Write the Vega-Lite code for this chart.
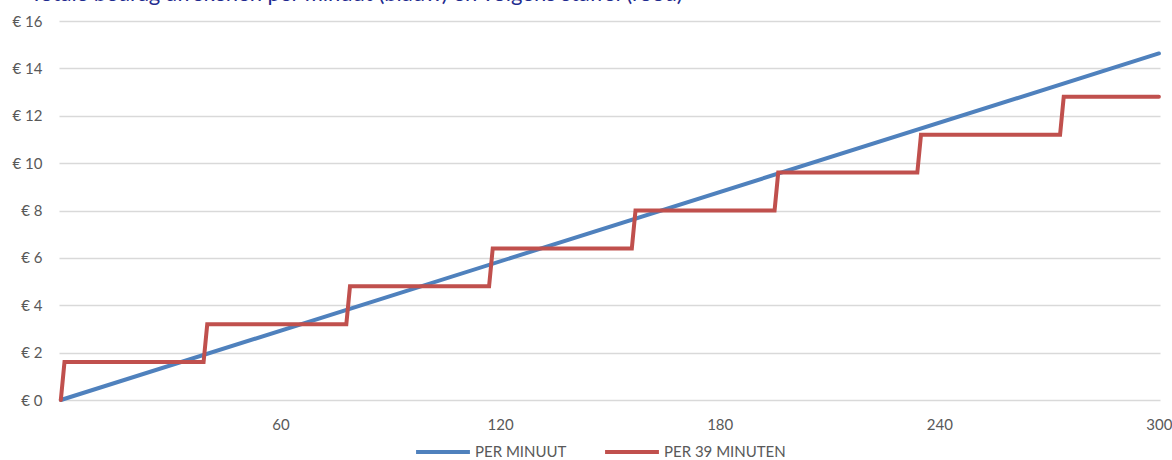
{
  "$schema": "https://vega.github.io/schema/vega-lite/v6.json",
  "autosize": {"type": "none"},
  "padding": {"left": 59, "top": 21, "right": 12, "bottom": 60},
  "width": 1101,
  "height": 379,
  "background": "white",
  "title": {
    "text": "Totale bedrag afrekenen per minuut (blauw) en volgens staffel (rood)",
    "anchor": "start",
    "frame": "group",
    "orient": "top",
    "baseline": "alphabetic",
    "offset": 7,
    "dx": -29,
    "dy": 16,
    "font": "Lato",
    "fontSize": 22,
    "fontWeight": "normal",
    "color": "#1F2B8F"
  },
  "config": {
    "view": {"stroke": null},
    "font": "Lato"
  },
  "data": {
    "values": [
      {"minuut": 0, "kosten": 0, "serie": "PER MINUUT"},
      {"minuut": 300, "kosten": 14.63, "serie": "PER MINUUT"},
      {"minuut": 0, "kosten": 0, "serie": "PER 39 MINUTEN"},
      {"minuut": 1, "kosten": 1.6, "serie": "PER 39 MINUTEN"},
      {"minuut": 39, "kosten": 1.6, "serie": "PER 39 MINUTEN"},
      {"minuut": 40, "kosten": 3.2, "serie": "PER 39 MINUTEN"},
      {"minuut": 78, "kosten": 3.2, "serie": "PER 39 MINUTEN"},
      {"minuut": 79, "kosten": 4.8, "serie": "PER 39 MINUTEN"},
      {"minuut": 117, "kosten": 4.8, "serie": "PER 39 MINUTEN"},
      {"minuut": 118, "kosten": 6.4, "serie": "PER 39 MINUTEN"},
      {"minuut": 156, "kosten": 6.4, "serie": "PER 39 MINUTEN"},
      {"minuut": 157, "kosten": 8.0, "serie": "PER 39 MINUTEN"},
      {"minuut": 195, "kosten": 8.0, "serie": "PER 39 MINUTEN"},
      {"minuut": 196, "kosten": 9.6, "serie": "PER 39 MINUTEN"},
      {"minuut": 234, "kosten": 9.6, "serie": "PER 39 MINUTEN"},
      {"minuut": 235, "kosten": 11.2, "serie": "PER 39 MINUTEN"},
      {"minuut": 273, "kosten": 11.2, "serie": "PER 39 MINUTEN"},
      {"minuut": 274, "kosten": 12.8, "serie": "PER 39 MINUTEN"},
      {"minuut": 300, "kosten": 12.8, "serie": "PER 39 MINUTEN"}
    ]
  },
  "mark": {"type": "line", "strokeWidth": 4, "strokeCap": "round", "strokeJoin": "miter", "clip": false},
  "encoding": {
    "x": {
      "field": "minuut",
      "type": "quantitative",
      "scale": {"domain": [-0.5, 300.3], "nice": false, "zero": false},
      "axis": {
        "title": null,
        "values": [60, 120, 180, 240, 300],
        "grid": false,
        "domain": false,
        "ticks": false,
        "labelPadding": 17,
        "labelFont": "Lato",
        "labelFontSize": 15,
        "labelColor": "#595959"
      }
    },
    "y": {
      "field": "kosten",
      "type": "quantitative",
      "scale": {"domain": [0, 16], "nice": false},
      "axis": {
        "title": null,
        "values": [0, 2, 4, 6, 8, 10, 12, 14, 16],
        "labelExpr": "'€ ' + datum.value",
        "grid": true,
        "gridColor": "#D9D9D9",
        "gridWidth": 1.5,
        "domain": false,
        "ticks": false,
        "labelPadding": 17,
        "labelFont": "Lato",
        "labelFontSize": 15,
        "labelColor": "#595959"
      }
    },
    "color": {
      "field": "serie",
      "type": "nominal",
      "scale": {"domain": ["PER MINUUT", "PER 39 MINUTEN"], "range": ["#4F81BD", "#C0504D"]},
      "legend": {
        "title": null,
        "orient": "none",
        "direction": "horizontal",
        "legendX": 355,
        "legendY": 402,
        "symbolType": "stroke",
        "symbolSize": 2900,
        "symbolStrokeWidth": 4,
        "labelFont": "Lato",
        "labelFontSize": 15,
        "labelColor": "#595959",
        "labelOffset": 3,
        "columnPadding": 30
      }
    },
    "order": {"field": "minuut", "type": "quantitative"}
  }
}
